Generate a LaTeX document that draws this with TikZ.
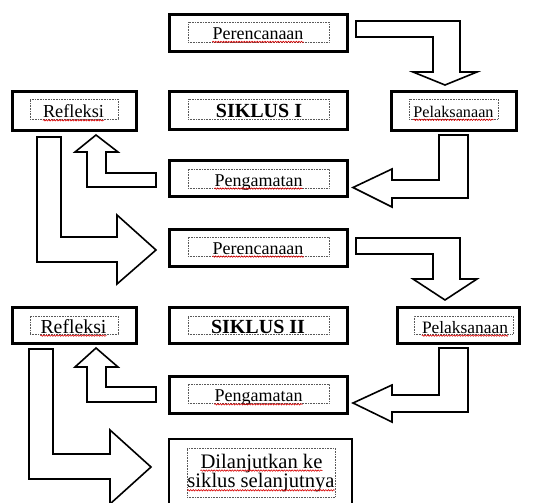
\documentclass[tikz,border=0pt]{standalone}
\usepackage{fontspec}
\setmainfont{Liberation Serif}
\usetikzlibrary{calc,decorations.pathmorphing}
\tikzset{
  outerbox/.style={draw=black, line width=3pt, rectangle, inner sep=0pt, fill=white},
  innerbox/.style={draw=black!65, densely dotted, line width=0.6pt, rectangle, inner sep=0pt},
  txt/.style={inner sep=0pt, anchor=base, font=\fontsize{#1}{#1}\selectfont},
  wavy/.style={draw=red!85!black, line width=0.6pt, decorate, decoration={snake, amplitude=0.7pt, segment length=2.6pt}},
  blockarrow/.style={draw=black, line width=1.6pt, fill=white, line join=miter}
}
\newcommand{\wavyline}[1]{\draw[wavy] ($(#1.base west)+(0,2.6)$) -- ($(#1.base east)+(0,2.6)$);}
\begin{document}
\begin{tikzpicture}[x=1pt, y=-1pt]
\useasboundingbox (0,0) rectangle (536,503);
\clip (0,0) rectangle (536,503);
% outer boxes
\node[outerbox, minimum width=178pt, minimum height=37pt] (per1) at (258.5,33) {};
\node[outerbox, minimum width=124pt, minimum height=39pt] (ref1) at (74.5,111) {};
\node[outerbox, minimum width=178pt, minimum height=38pt] (sik1) at (258.5,110.5) {};
\node[outerbox, minimum width=125pt, minimum height=39pt] (pel1) at (454,111) {};
\node[outerbox, minimum width=178pt, minimum height=36pt] (pen1) at (258.5,178.5) {};
\node[outerbox, minimum width=178pt, minimum height=37pt] (per2) at (258.5,248) {};
\node[outerbox, minimum width=124pt, minimum height=36pt] (ref2) at (74.5,325.5) {};
\node[outerbox, minimum width=178pt, minimum height=36pt] (sik2) at (258.5,325.5) {};
\node[outerbox, minimum width=122pt, minimum height=36pt] (pel2) at (458.5,325.5) {};
\node[outerbox, minimum width=178pt, minimum height=37pt] (pen2) at (258.5,395) {};
\node[outerbox, line width=2.2pt, minimum width=183pt, minimum height=80pt] (dil) at (260.5,479) {};
% inner dotted boxes
\node[innerbox, minimum width=141pt, minimum height=20pt] (iper1) at (258.5,32) {};
\node[innerbox, minimum width=88pt, minimum height=20pt] (iref1) at (74,109) {};
\node[innerbox, minimum width=141pt, minimum height=20pt] (isik1) at (258.5,109) {};
\node[innerbox, minimum width=89pt, minimum height=20pt] (ipel1) at (453.5,109) {};
\node[innerbox, minimum width=141pt, minimum height=19pt] (ipen1) at (258.5,178.5) {};
\node[innerbox, minimum width=141pt, minimum height=19pt] (iper2) at (258.5,246.5) {};
\node[innerbox, minimum width=88pt, minimum height=18pt] (iref2) at (74,325) {};
\node[innerbox, minimum width=141pt, minimum height=18pt] (isik2) at (258.5,325) {};
\node[innerbox, minimum width=99pt, minimum height=18pt] (ipel2) at (463.5,325) {};
\node[innerbox, minimum width=141pt, minimum height=19pt] (ipen2) at (258.5,393.5) {};
\node[innerbox, minimum width=148pt, minimum height=49pt] (idil) at (261,472.5) {};
% texts
\node[txt=18] (tper1) at (258,39.3) {Perencanaan};
\node[txt=18.3] (tref1) at (73.5,117.7) {Refleksi};
\node[txt=20, font=\fontsize{20}{20}\selectfont\bfseries] (tsik1) at (259,117.7) {SIKLUS I};
\node[txt=16.2] (tpel1) at (453.5,117.2) {Pelaksanaan};
\node[txt=18] (tpen1) at (258.5,186) {Pengamatan};
\node[txt=18] (tper2) at (258,254) {Perencanaan};
\node[txt=19.8] (tref2) at (73.5,333) {Refleksi};
\node[txt=20, font=\fontsize{20}{20}\selectfont\bfseries] (tsik2) at (258,333) {SIKLUS II};
\node[txt=17.4] (tpel2) at (465,333) {Pelaksanaan};
\node[txt=18] (tpen2) at (258.5,401.7) {Pengamatan};
\node[txt=20.6] (tdila) at (261.5,468) {Dilanjutkan ke};
\node[txt=20.6] (tdilb) at (261,487.7) {siklus selanjutnya};
% spell-check underlines
\wavyline{tper1}
\wavyline{tref1}
\wavyline{tpel1}
\wavyline{tpen1}
\wavyline{tper2}
\wavyline{tref2}
\wavyline{tpel2}
\wavyline{tpen2}
\wavyline{tdila}
\wavyline{tdilb}
% block arrows
\draw[blockarrow] (356,21) -- (460,21) -- (460,72) -- (477,72) -- (445,85) -- (413,72) -- (433,72) -- (433,37) -- (356,37) -- cycle;
\draw[blockarrow] (439,135) -- (468,135) -- (468,198) -- (392,198) -- (392,207) -- (353,187.5) -- (392,169) -- (392,180) -- (439,180) -- cycle;
\draw[blockarrow] (156,173) -- (106,173) -- (106,152) -- (118,152) -- (96,135) -- (75,152) -- (87,152) -- (87,187) -- (156,187) -- cycle;
\draw[blockarrow] (37,137) -- (61,137) -- (61,237) -- (117,237) -- (117,215) -- (156,250) -- (117,284) -- (117,262) -- (37,262) -- cycle;
\draw[blockarrow] (356,238) -- (460,238) -- (460,279) -- (477,279) -- (445,300) -- (413,279) -- (433,279) -- (433,254) -- (356,254) -- cycle;
\draw[blockarrow] (439,348) -- (468,348) -- (468,412) -- (392,412) -- (392,422) -- (353,403) -- (392,385) -- (392,395) -- (439,395) -- cycle;
\draw[blockarrow] (156,387) -- (106,387) -- (106,367) -- (118,367) -- (96,348) -- (75,367) -- (87,367) -- (87,402) -- (156,402) -- cycle;
\draw[blockarrow] (29,349) -- (53,349) -- (53,454) -- (110,454) -- (110,430) -- (151,467) -- (110,504) -- (110,479) -- (29,479) -- cycle;
\end{tikzpicture}
\end{document}
